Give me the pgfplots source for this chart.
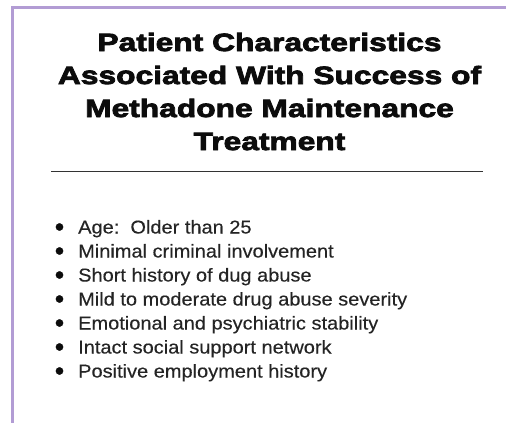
\documentclass[border=0pt]{standalone}
\usepackage{fontspec}
\usepackage{pgfplots}
\pgfplotsset{compat=1.18}
\setmainfont{Liberation Sans}
\newfontfamily\titlefont[FakeStretch=1.27,FakeBold=3.2]{Liberation Sans Bold}
\newfontfamily\bodyfont[FakeStretch=1.075,FakeBold=0.3]{Liberation Sans}
\definecolor{frame}{RGB}{178,156,212}
\definecolor{ink}{RGB}{12,12,12}
\begin{document}
\begin{tikzpicture}
\useasboundingbox (0,0) rectangle (506pt,423pt);
\begin{axis}[
  at={(0,0)}, anchor=south west,
  width=506pt, height=423pt, scale only axis,
  xmin=0, xmax=506, ymin=0, ymax=423, y dir=reverse,
  hide axis, clip=false,
]
% frame lines
\addplot[line width=3pt, color=frame] coordinates {(12.3,423) (12.3,7) (506,7)};
% rule under title
\addplot[line width=1.8pt, color=black!80] coordinates {(51,171.5) (483,171.5)};
% bullets
\addplot[only marks, mark=*, mark size=3.6pt, color=ink] coordinates {
 (59.5,227) (59.5,251) (59.5,275) (59.5,299) (59.5,323) (59.5,347) (59.5,371)};
% title
\node[anchor=base, text=ink, font=\titlefont\fontsize{25}{30}\selectfont] at (axis cs:269.5,51) {Patient Characteristics};
\node[anchor=base, text=ink, font=\titlefont\fontsize{25}{30}\selectfont] at (axis cs:269.5,84) {Associated With Success of};
\node[anchor=base, text=ink, font=\titlefont\fontsize{25}{30}\selectfont] at (axis cs:269.5,117) {Methadone Maintenance};
\node[anchor=base, text=ink, font=\titlefont\fontsize{25}{30}\selectfont] at (axis cs:269.5,150) {Treatment};
% bullet text
\tikzset{bt/.style={anchor=base west, inner sep=0pt, text=ink!90, font=\bodyfont\fontsize{18.6}{22}\selectfont}}
\node[bt] at (axis cs:78,233.5) {Age:\ \ Older than 25};
\node[bt] at (axis cs:78,257.5) {Minimal criminal involvement};
\node[bt] at (axis cs:78,281.5) {Short history of dug abuse};
\node[bt] at (axis cs:78,305.5) {Mild to moderate drug abuse severity};
\node[bt] at (axis cs:78,329.5) {Emotional and psychiatric stability};
\node[bt] at (axis cs:78,353.5) {Intact social support network};
\node[bt] at (axis cs:78,377.5) {Positive employment history};
\end{axis}
\end{tikzpicture}
\end{document}
